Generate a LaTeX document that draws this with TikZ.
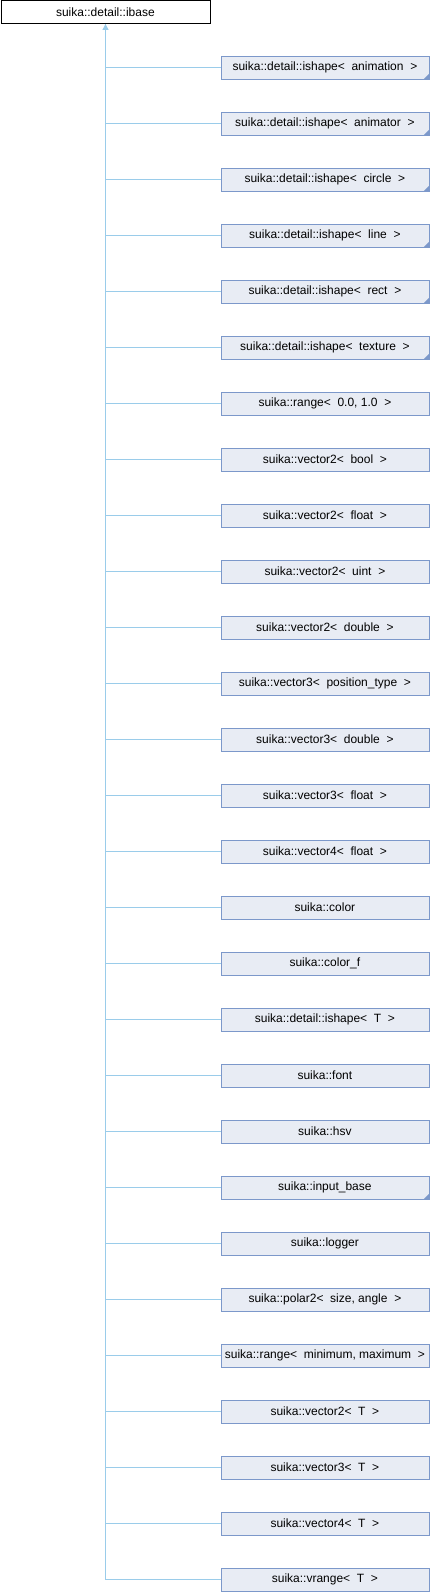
\documentclass[tikz,border=0pt]{standalone}
\usepackage{fontspec}
\setmainfont{Liberation Sans}
\definecolor{boxfill}{RGB}{232,236,244}
\definecolor{boxdraw}{RGB}{124,152,202}
\definecolor{linkc}{RGB}{154,204,234}
\begin{document}
\begin{tikzpicture}[x=1pt,y=-1pt,
  base/.style={draw=black,fill=white,line width=0.8pt,minimum width=209pt,minimum height=23pt,inner sep=0pt,font=\fontsize{12}{14}\selectfont,anchor=north west},
  cls/.style={draw=boxdraw,fill=boxfill,line width=0.8pt,minimum width=208pt,minimum height=23pt,inner sep=0pt,font=\fontsize{12}{14}\selectfont,anchor=west},
  link/.style={draw=linkc,line width=0.9pt},
  fold/.style={fill=boxdraw}]
\useasboundingbox (0,0) rectangle (430,1592);
\node[base] (root) at (0.5,0.5) {suika::detail::ibase};
\coordinate (top) at (105.5,24);
\foreach \i/\t/\f in {
 0/{suika::detail::ishape<\ \ animation\ \ >}/1,
 1/{suika::detail::ishape<\ \ animator\ \ >}/1,
 2/{suika::detail::ishape<\ \ circle\ \ >}/1,
 3/{suika::detail::ishape<\ \ line\ \ >}/1,
 4/{suika::detail::ishape<\ \ rect\ \ >}/1,
 5/{suika::detail::ishape<\ \ texture\ \ >}/1,
 6/{suika::range<\ \ 0.0, 1.0\ \ >}/0,
 7/{suika::vector2<\ \ bool\ \ >}/0,
 8/{suika::vector2<\ \ float\ \ >}/0,
 9/{suika::vector2<\ \ uint\ \ >}/0,
 10/{suika::vector2<\ \ double\ \ >}/0,
 11/{suika::vector3<\ \ position\_type\ \ >}/0,
 12/{suika::vector3<\ \ double\ \ >}/0,
 13/{suika::vector3<\ \ float\ \ >}/0,
 14/{suika::vector4<\ \ float\ \ >}/0,
 15/{suika::color}/0,
 16/{suika::color\_f}/0,
 17/{suika::detail::ishape<\ \ T\ \ >}/0,
 18/{suika::font}/0,
 19/{suika::hsv}/0,
 20/{suika::input\_base}/1,
 21/{suika::logger}/0,
 22/{suika::polar2<\ \ size, angle\ \ >}/0,
 23/{suika::range<\ \ minimum, maximum\ \ >}/0,
 24/{suika::vector2<\ \ T\ \ >}/0,
 25/{suika::vector3<\ \ T\ \ >}/0,
 26/{suika::vector4<\ \ T\ \ >}/0,
 27/{suika::vrange<\ \ T\ \ >}/0} {
  \node[cls] (c\i) at (220.5,67.5+56*\i) {\t};
  \ifnum\f=1
    \fill[fold] (c\i.south east) ++(-0.4,-0.4) -- ++(0,-5) -- ++(-5,5) -- cycle;
  \fi
  \draw[link] (c\i.west) -- (c\i.west -| top);
}
\draw[link] (c27.west -| top) -- (top);
\fill[linkc] (top) -- ++(-3.2,6) -- ++(6.4,0) -- cycle;
\end{tikzpicture}
\end{document}
